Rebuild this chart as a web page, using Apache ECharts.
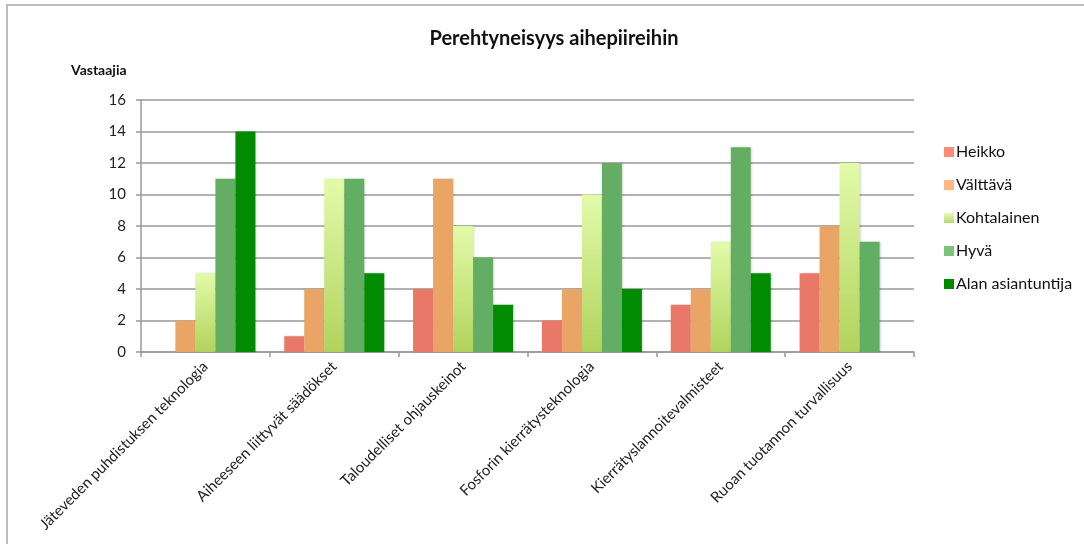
<!DOCTYPE html>
<html>
<head>
<meta charset="utf-8">
<script src="https://cdn.jsdelivr.net/npm/echarts@6/dist/echarts.min.js"></script>
<style>
  html, body { margin: 0; padding: 0; background: #fff; }
  #chart { width: 1084px; height: 544px; }
</style>
</head>
<body>
<div id="chart"></div>
<script>
// aihepiirit
const categories = [
  'Jäteveden puhdistuksen teknologia',
  'Aiheeseen liittyvät säädökset',
  'Taloudelliset ohjauskeinot',
  'Fosforin kierrätysteknologia',
  'Kierrätyslannoitevalmisteet',
  'Ruoan tuotannon turvallisuus'
]
const heikko = [0, 1, 4, 2, 3, 5]
const valttava = [2, 4, 11, 4, 4, 8]
const kohtalainen = [5, 11, 8, 10, 7, 12]
const hyva = [11, 11, 6, 12, 13, 7]
const asiantuntija = [14, 5, 3, 4, 5, 0]
const yTicks = [0, 2, 4, 6, 8, 10, 12, 14, 16]

const font = 'Lato, "Liberation Sans", sans-serif'

const gradient = (top, bottom) => new echarts.graphic.LinearGradient(0, 0, 0, 1, [
  { offset: 0, color: top },
  { offset: 1, color: bottom }
])

function bar(name, data, color) {
  return {
    name: name,
    type: 'bar',
    data: data,
    barWidth: 20,
    barGap: '0%',
    itemStyle: {
      color: color,
      shadowColor: 'rgba(0,0,0,0.15)',
      shadowBlur: 2,
      shadowOffsetX: 1
    }
  }
}

const series = [
  bar('Heikko', heikko, '#e97868'),
  bar('Välttävä', valttava, '#e8a565'),
  bar('Kohtalainen', kohtalainen, gradient('#e2fbaa', '#b1d35c')),
  bar('Hyvä', hyva, '#64ae64'),
  bar('Alan asiantuntija', asiantuntija, '#008b00')
]

const chart = echarts.init(document.getElementById('chart'))
chart.setOption({
  animation: false,
  graphic: [{
    type: 'rect',
    shape: { x: 7, y: 5, width: 1200, height: 700 },
    style: { fill: 'none', stroke: '#a8a8a8', lineWidth: 1.5 },
    z: -1
  }],
  title: [{
    text: 'Perehtyneisyys aihepiireihin',
    left: 549,
    textAlign: 'center',
    top: 24,
    textStyle: { fontFamily: font, fontSize: 20, fontWeight: 'bold', color: '#111' }
  }, {
    text: 'Vastaajia',
    left: 66,
    top: 58,
    textStyle: { fontFamily: font, fontSize: 14, fontWeight: 'bold', color: '#111' }
  }],
  legend: {
    orient: 'vertical',
    left: 939,
    top: 139,
    itemWidth: 10,
    itemHeight: 10,
    itemGap: 17,
    icon: 'rect',
    textStyle: { fontFamily: font, fontSize: 16, color: '#111', padding: [0, 0, 0, -3] },
    data: [
      { name: 'Heikko', itemStyle: { color: '#ff8a7a' } },
      { name: 'Välttävä', itemStyle: { color: '#ffb880' } },
      { name: 'Kohtalainen', itemStyle: { color: gradient('#e8fbb8', '#b8d870') } },
      { name: 'Hyvä', itemStyle: { color: '#7cc47c' } },
      { name: 'Alan asiantuntija', itemStyle: { color: '#008800' } }
    ]
  },
  grid: { left: 141, right: 170, top: 100, bottom: 192 },
  xAxis: {
    type: 'category',
    data: categories,
    axisLine: { lineStyle: { color: '#999', width: 1.5 } },
    axisTick: { show: true, length: 5, lineStyle: { color: '#999', width: 1.5 } },
    axisLabel: {
      interval: 0,
      rotate: 45,
      margin: 12,
      fontFamily: font,
      fontSize: 15,
      color: '#222'
    }
  },
  yAxis: {
    type: 'value',
    min: yTicks[0],
    max: yTicks[yTicks.length - 1],
    interval: 2,
    axisLine: { show: true, lineStyle: { color: '#999', width: 1.5 } },
    axisTick: { show: true, length: 5, lineStyle: { color: '#999', width: 1.5 } },
    splitLine: { lineStyle: { color: '#999', width: 1.5 } },
    axisLabel: { margin: 15, fontFamily: font, fontSize: 15, color: '#222' }
  },
  series: series
})
</script>
</body>
</html>
